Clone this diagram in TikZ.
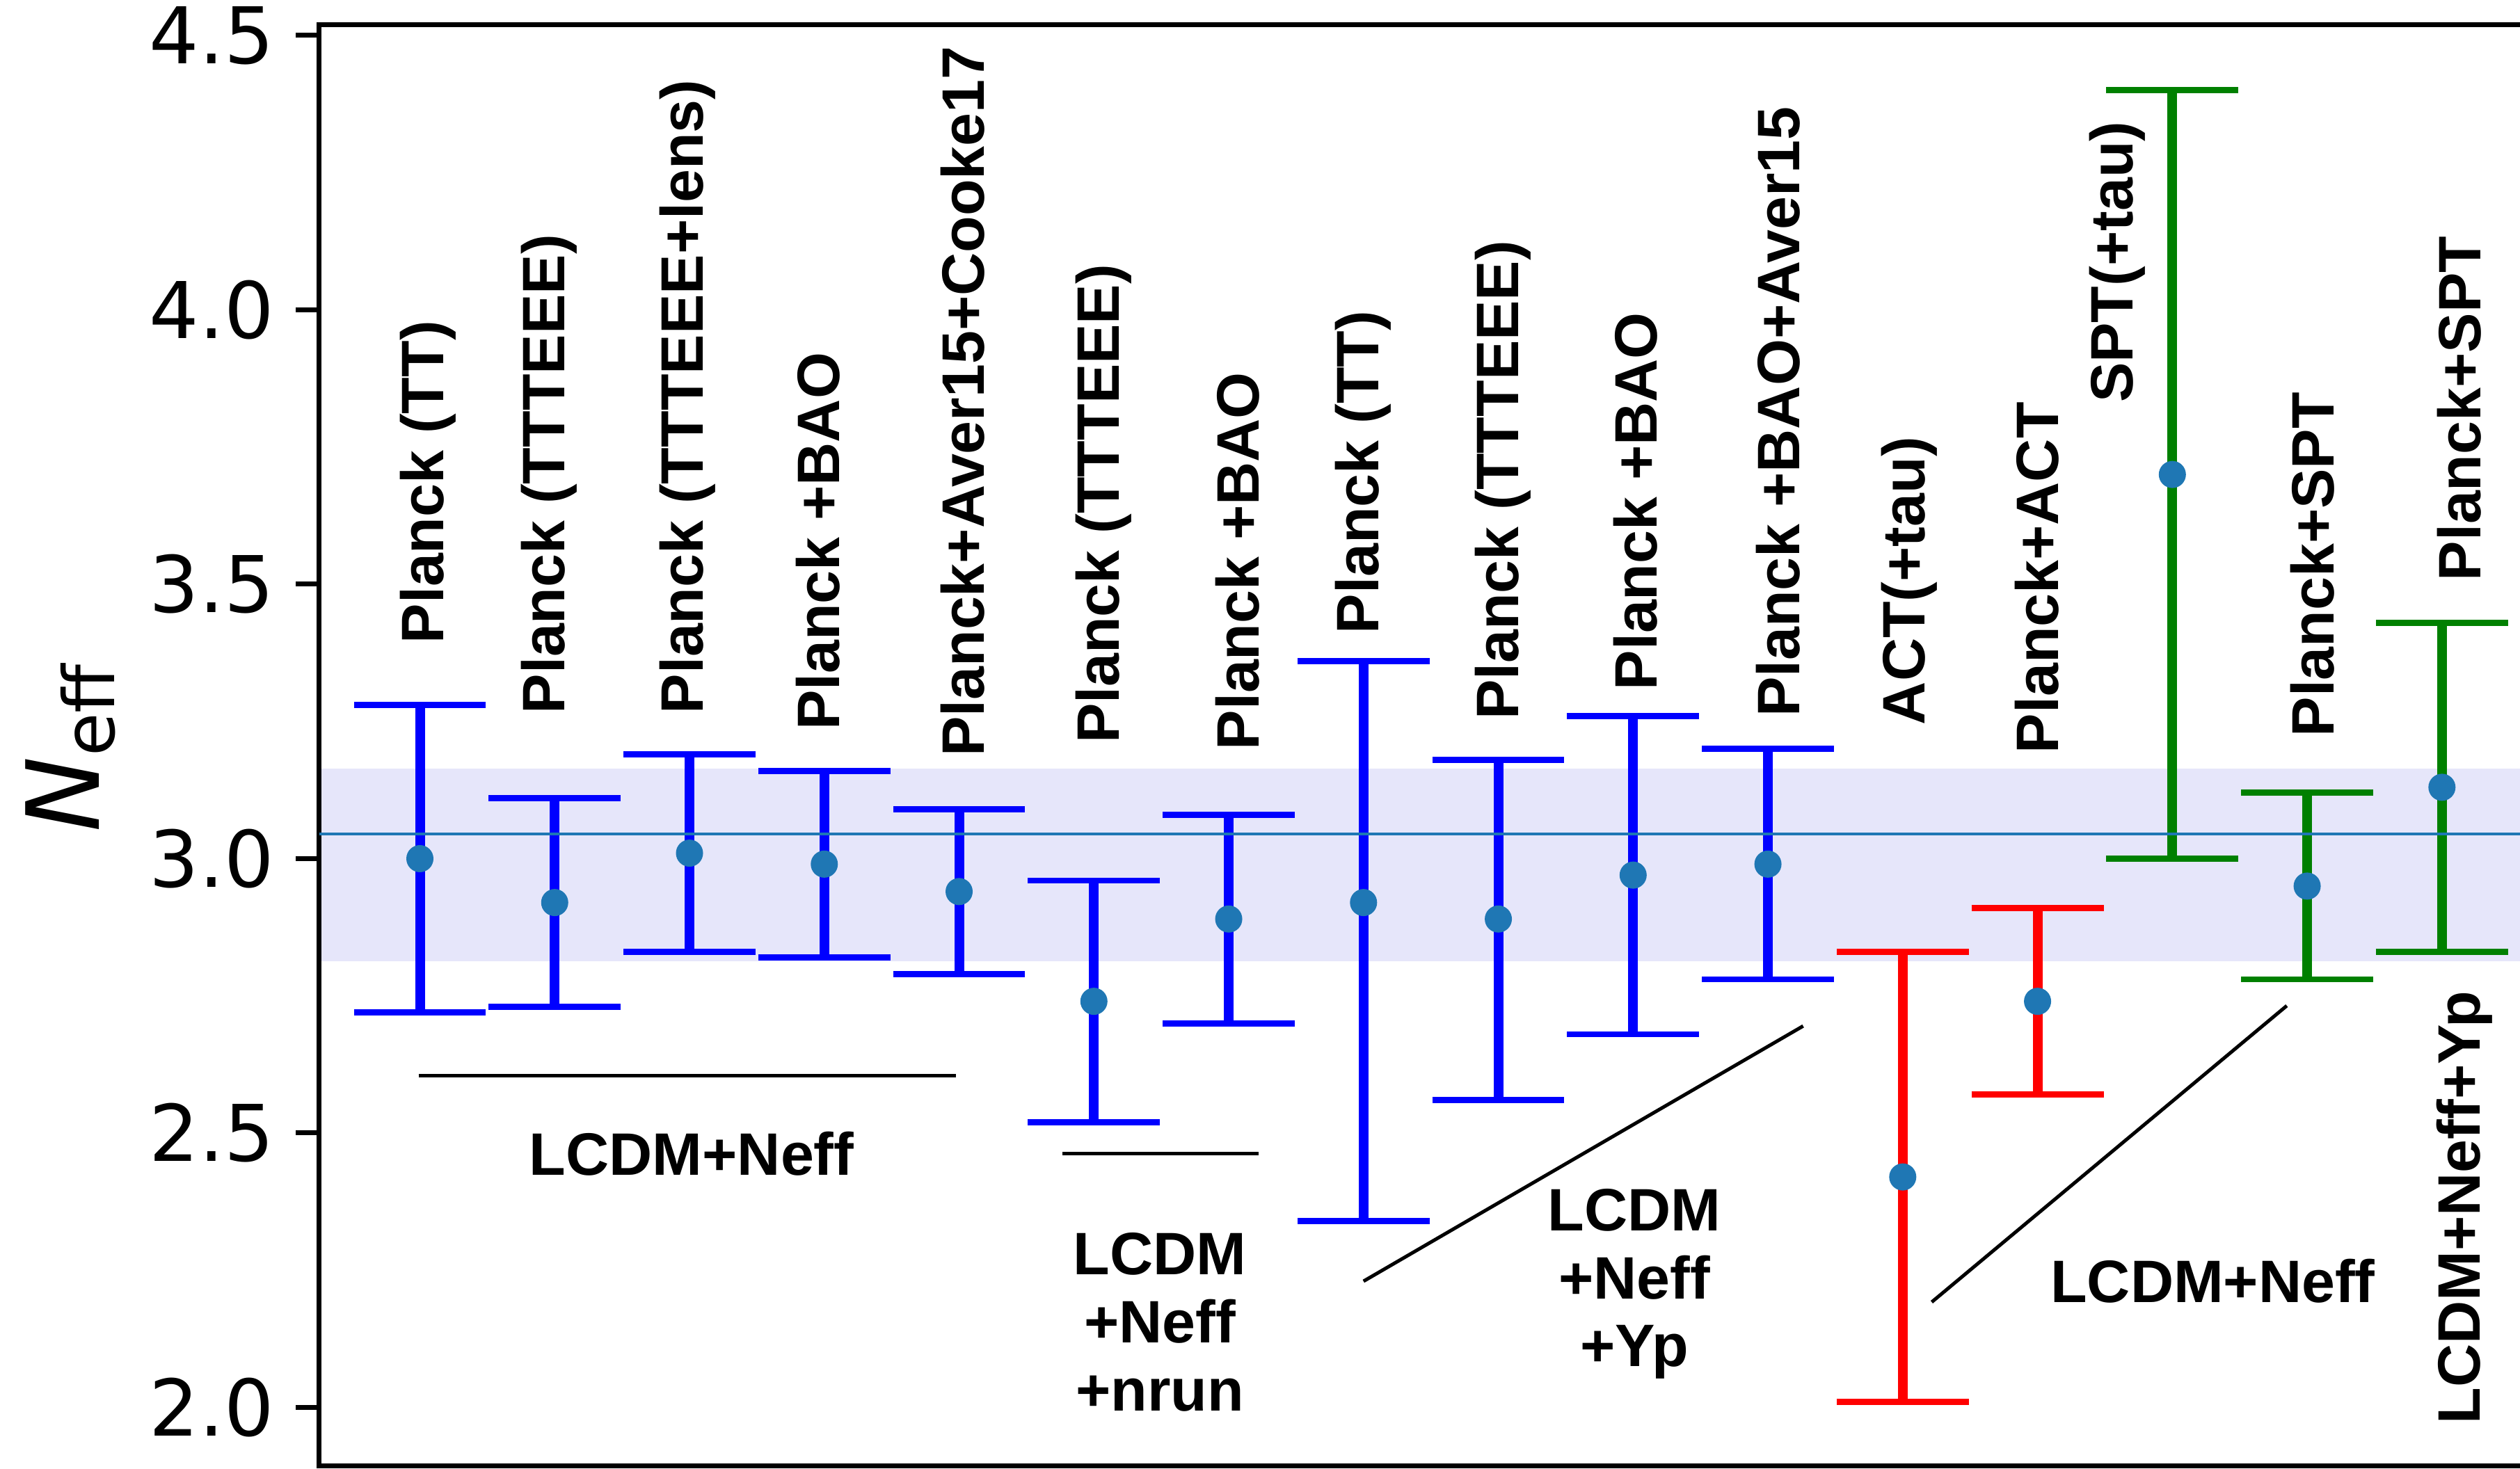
\documentclass[tikz,border=0pt]{standalone}
\usepackage{fontspec}
\setmainfont{Liberation Sans}
\newfontfamily\dejavu{DejaVu Sans}
\definecolor{dotblue}{RGB}{31,119,180}
\definecolor{bandcol}{RGB}{230,230,250}
\definecolor{mplgreen}{RGB}{0,128,0}

\begin{document}
\begin{tikzpicture}[x=1.9375cm, y=7.89cm,
  errstem/.style={line width=0.14cm, #1},
  capline/.style={line width=0.088cm, #1},
  dot/.style={fill=dotblue},
  frame/.style={line width=0.07cm},
  guide/.style={line width=0.05cm},
  lbl/.style={rotate=90, anchor=base west, inner sep=0pt, font=\bfseries\fontsize{24.5}{29}\selectfont},
  note/.style={inner sep=0pt, align=center, font=\bfseries\fontsize{24.5}{27.8}\selectfont},
  ticklbl/.style={anchor=east, inner sep=0pt, font=\dejavu\fontsize{32}{38}\selectfont}]
\useasboundingbox (-2.1148,1.8891) rectangle (16.579,4.5646);
% Band and axes
\fill[bandcol] (0.252,2.813) rectangle (16.6,3.164);
\draw[frame] (16.6,4.520) -- (0.252,4.520) -- (0.252,1.893) -- (16.6,1.893);
\draw[frame] (0.079,2.0) -- (0.252,2.0);
\draw[frame] (0.079,2.5) -- (0.252,2.5);
\draw[frame] (0.079,3.0) -- (0.252,3.0);
\draw[frame] (0.079,3.5) -- (0.252,3.5);
\draw[frame] (0.079,4.0) -- (0.252,4.0);
\draw[frame] (0.079,4.5) -- (0.252,4.5);
\node[ticklbl] (t20) at (-0.079,2.0) {2.0};
\node[ticklbl] (t25) at (-0.079,2.5) {2.5};
\node[ticklbl] (t30) at (-0.079,3.0) {3.0};
\node[ticklbl] (t35) at (-0.079,3.5) {3.5};
\node[ticklbl] (t40) at (-0.079,4.0) {4.0};
\node[ticklbl] (t45) at (-0.079,4.5) {4.5};
\node[rotate=90, anchor=base, inner sep=0pt, font=\dejavu] (ylab) at (-1.377,3.201)
  {\fontsize{41.3}{45}\selectfont\itshape N\upshape\raisebox{-0.22cm}{\fontsize{28.9}{32}\selectfont eff}};
% Error bars: LCDM+Neff
\draw[errstem=blue] (1,2.72) -- (1,3.28); \draw[capline=blue] (0.51,2.72) -- (1.49,2.72) (0.51,3.28) -- (1.49,3.28);
\draw[errstem=blue] (2,2.73) -- (2,3.11); \draw[capline=blue] (1.51,2.73) -- (2.49,2.73) (1.51,3.11) -- (2.49,3.11);
\draw[errstem=blue] (3,2.83) -- (3,3.19); \draw[capline=blue] (2.51,2.83) -- (3.49,2.83) (2.51,3.19) -- (3.49,3.19);
\draw[errstem=blue] (4,2.82) -- (4,3.16); \draw[capline=blue] (3.51,2.82) -- (4.49,2.82) (3.51,3.16) -- (4.49,3.16);
\draw[errstem=blue] (5,2.79) -- (5,3.09); \draw[capline=blue] (4.51,2.79) -- (5.49,2.79) (4.51,3.09) -- (5.49,3.09);
% Error bars: +nrun
\draw[errstem=blue] (6,2.52) -- (6,2.96); \draw[capline=blue] (5.51,2.52) -- (6.49,2.52) (5.51,2.96) -- (6.49,2.96);
\draw[errstem=blue] (7,2.70) -- (7,3.08); \draw[capline=blue] (6.51,2.70) -- (7.49,2.70) (6.51,3.08) -- (7.49,3.08);
% Error bars: +Yp
\draw[errstem=blue] (8,2.34) -- (8,3.36); \draw[capline=blue] (7.51,2.34) -- (8.49,2.34) (7.51,3.36) -- (8.49,3.36);
\draw[errstem=blue] (9,2.56) -- (9,3.18); \draw[capline=blue] (8.51,2.56) -- (9.49,2.56) (8.51,3.18) -- (9.49,3.18);
\draw[errstem=blue] (10,2.68) -- (10,3.26); \draw[capline=blue] (9.51,2.68) -- (10.49,2.68) (9.51,3.26) -- (10.49,3.26);
\draw[errstem=blue] (11,2.78) -- (11,3.20); \draw[capline=blue] (10.51,2.78) -- (11.49,2.78) (10.51,3.20) -- (11.49,3.20);
% Error bars: ACT and SPT
\draw[errstem=red] (12,2.01) -- (12,2.83); \draw[capline=red] (11.51,2.01) -- (12.49,2.01) (11.51,2.83) -- (12.49,2.83);
\draw[errstem=red] (13,2.57) -- (13,2.91); \draw[capline=red] (12.51,2.57) -- (13.49,2.57) (12.51,2.91) -- (13.49,2.91);
\draw[errstem=mplgreen] (14,3.00) -- (14,4.40); \draw[capline=mplgreen] (13.51,3.00) -- (14.49,3.00) (13.51,4.40) -- (14.49,4.40);
\draw[errstem=mplgreen] (15,2.78) -- (15,3.12); \draw[capline=mplgreen] (14.51,2.78) -- (15.49,2.78) (14.51,3.12) -- (15.49,3.12);
\draw[errstem=mplgreen] (16,2.83) -- (16,3.43); \draw[capline=mplgreen] (15.51,2.83) -- (16.49,2.83) (15.51,3.43) -- (16.49,3.43);
% Reference line and central values
\draw[dotblue, line width=0.04cm] (0.252,3.045) -- (16.6,3.045);
\fill[dot] (1,3.00) circle (0.195cm);
\fill[dot] (2,2.92) circle (0.195cm);
\fill[dot] (3,3.01) circle (0.195cm);
\fill[dot] (4,2.99) circle (0.195cm);
\fill[dot] (5,2.94) circle (0.195cm);
\fill[dot] (6,2.74) circle (0.195cm);
\fill[dot] (7,2.89) circle (0.195cm);
\fill[dot] (8,2.92) circle (0.195cm);
\fill[dot] (9,2.89) circle (0.195cm);
\fill[dot] (10,2.97) circle (0.195cm);
\fill[dot] (11,2.99) circle (0.195cm);
\fill[dot] (12,2.42) circle (0.195cm);
\fill[dot] (13,2.74) circle (0.195cm);
\fill[dot] (14,3.70) circle (0.195cm);
\fill[dot] (15,2.95) circle (0.195cm);
\fill[dot] (16,3.13) circle (0.195cm);
% Data set labels
\node[lbl] (l1) at (1.173,3.391) {Planck (TT)};
\node[lbl] (l2) at (2.076,3.263) {Planck (TTTEEE)};
\node[lbl] (l3) at (3.098,3.263) {Planck (TTTEEE+lens)};
\node[lbl] (l4) at (4.110,3.233) {Planck +BAO};
\node[lbl] (l5) at (5.188,3.185) {Planck+Aver15+Cooke17};
\node[lbl] (l6) at (6.185,3.209) {Planck (TTTEEE)};
\node[lbl] (l7) at (7.222,3.197) {Planck +BAO};
\node[lbl] (l8) at (8.110,3.409) {Planck (TT)};
\node[lbl] (l9) at (9.147,3.252) {Planck (TTTEEE)};
\node[lbl] (l10) at (10.174,3.306) {Planck +BAO};
\node[lbl] (l11) at (11.237,3.257) {Planck +BAO+Aver15};
\node[lbl] (l12) at (12.161,3.243) {ACT(+tau)};
\node[lbl] (l13) at (13.157,3.191) {Planck+ACT};
\node[lbl] (l14) at (13.705,3.830) {SPT(+tau)};
\node[lbl] (l15) at (15.196,3.221) {Planck+SPT};
\node[lbl] (l16) at (16.285,3.505) {Planck+SPT};
\node[lbl] (l17) at (16.280,1.969) {LCDM+Neff+Yp};
% Model groups
\draw[guide] (0.99,2.604) -- (4.978,2.604);
\draw[guide] (5.766,2.463) -- (7.222,2.463);
\draw[guide] (8.0,2.230) -- (11.261,2.695);
\draw[guide] (12.215,2.192) -- (14.849,2.732);
\node[note, anchor=base] (g1) at (3.016,2.423) {LCDM+Neff};
\node[note, anchor=north] (g2) at (6.489,2.319) {LCDM\\+Neff\\+nrun};
\node[note, anchor=north] (g3) at (10.01,2.399) {LCDM\\+Neff\\+Yp};
\node[note, anchor=base] (g4) at (14.30,2.192) {LCDM+Neff};
\end{tikzpicture}
\end{document}
